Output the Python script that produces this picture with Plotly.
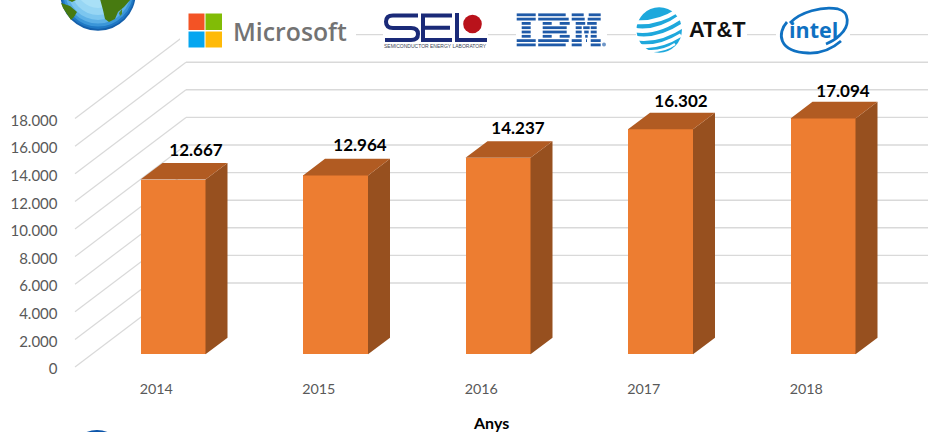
import plotly.graph_objects as go

# Chart data
years = [2014, 2015, 2016, 2017, 2018]
values = [12667, 12964, 14237, 16302, 17094]
value_labels = ["12.667", "12.964", "14.237", "16.302", "17.094"]
y_ticks = [0, 2000, 4000, 6000, 8000, 10000, 12000, 14000, 16000, 18000]
y_tick_labels = ["0", "2.000", "4.000", "6.000", "8.000", "10.000", "12.000", "14.000", "16.000", "18.000"]
x_title = "Anys"

W, H = 928, 432

# Axis scales: one year = 162.5 px, 2000 units = 27.6 px
PX_PER_YEAR = 162.5
PX_PER_UNIT = 0.0138
ZERO_X = 173.0    # pixel column of the first bar's centre
ZERO_Y = 354.3    # pixel row of the bars' base

BAR_WIDTH = 0.4
DEPTH_X = 22.0 / PX_PER_YEAR
DEPTH_Y = 16.6 / PX_PER_UNIT
LABEL_GAP = 10.8 / PX_PER_UNIT

# Oblique projection of the floor: front edge, bar plane, back wall
FRONT_DY = -12.7 / PX_PER_UNIT
BACK_DY = 71.3 / PX_PER_UNIT
FRONT_X = 2014 + (75 - ZERO_X) / PX_PER_YEAR
BACK_X = 2014 + (186 - ZERO_X) / PX_PER_YEAR
FRONT_SHIFT_X = 16.7 / PX_PER_YEAR
TICK_DROP = 2.0 / PX_PER_UNIT

label_nudge_x = [1 / PX_PER_YEAR, 2.5 / PX_PER_YEAR, -2 / PX_PER_YEAR, -1.5 / PX_PER_YEAR, -2 / PX_PER_YEAR]
label_nudge_y = [0, 1.5 / PX_PER_UNIT, 0.7 / PX_PER_UNIT, -0.8 / PX_PER_UNIT, -1.8 / PX_PER_UNIT]

x_range = [2014 - ZERO_X / PX_PER_YEAR, 2014 + (W - ZERO_X) / PX_PER_YEAR]
y_range = [-(H - ZERO_Y) / PX_PER_UNIT, ZERO_Y / PX_PER_UNIT]

GRID = "#d9d9d9"
FRONT = "#ED7D31"
TOP = "#B15B22"
SIDE = "#97501F"
TICK = "#595959"

fig = go.Figure()

# Front faces
fig.add_trace(go.Bar(x=years, y=values, width=BAR_WIDTH, marker=dict(color=FRONT, line=dict(width=0)),
                     hoverinfo="x+y"))

# Side and top faces, projected from the same values
side_x, side_y, top_x, top_y = [], [], [], []
for yr, v in zip(years, values):
    l, r = yr - BAR_WIDTH / 2, yr + BAR_WIDTH / 2
    side_x += [r, r + DEPTH_X, r + DEPTH_X, r, r, None]
    side_y += [0, DEPTH_Y, v + DEPTH_Y, v, 0, None]
    top_x += [l, r, r + DEPTH_X, l + DEPTH_X, l, None]
    top_y += [v, v, v + DEPTH_Y, v + DEPTH_Y, v, None]
fig.add_trace(go.Scatter(x=side_x, y=side_y, mode="lines", fill="toself", fillcolor=SIDE,
                         line=dict(width=0, color=SIDE), hoverinfo="skip"))
fig.add_trace(go.Scatter(x=top_x, y=top_y, mode="lines", fill="toself", fillcolor=TOP,
                         line=dict(width=0, color=TOP), hoverinfo="skip"))

# Value labels above each bar
fig.add_trace(go.Scatter(
    x=[yr + DEPTH_X + n for yr, n in zip(years, label_nudge_x)],
    y=[v + DEPTH_Y + LABEL_GAP + n for v, n in zip(values, label_nudge_y)],
    text=value_labels, mode="text", textposition="middle center",
    textfont=dict(family="Lato", size=17, color="#000000", weight="bold"), hoverinfo="skip"))

# Carrier for the two axes that sit on the front edge of the floor
fig.add_trace(go.Scatter(x=years, y=[0] * len(years), xaxis="x2", yaxis="y2", mode="none", hoverinfo="skip"))

shapes = []

# Floor-to-wall diagonals and back wall gridlines
for t in y_ticks:
    shapes.append(dict(type="line", xref="x", yref="y", layer="below", x0=FRONT_X, y0=t + FRONT_DY,
                       x1=BACK_X, y1=t + BACK_DY, line=dict(color=GRID, width=1.2)))
    shapes.append(dict(type="line", xref="x", yref="y", layer="below", x0=BACK_X, y0=t + BACK_DY,
                       x1=x_range[1], y1=t + BACK_DY, line=dict(color=GRID, width=1.4)))


# Helpers for the header artwork, placed in page pixels
def fx(x):
    return x / W


def fy(y):
    return 1 - y / H


def rect(x0, y0, x1, y1, color):
    shapes.append(dict(type="rect", xref="paper", yref="paper", layer="above", x0=fx(x0), x1=fx(x1),
                       y0=fy(y0), y1=fy(y1), fillcolor=color, line=dict(width=0)))


def disc(cx, cy, r, color):
    shapes.append(dict(type="circle", xref="paper", yref="paper", layer="above", x0=fx(cx - r), x1=fx(cx + r),
                       y0=fy(cy - r), y1=fy(cy + r), fillcolor=color, line=dict(width=0)))


def path(cmds, stroke=None, width=0, fill=None):
    out = []
    for c in cmds:
        if isinstance(c, str):
            out.append(c)
        else:
            out.append(f"{fx(c[0]):.5f},{fy(c[1]):.5f}")
    shapes.append(dict(type="path", xref="paper", yref="paper", layer="above", path=" ".join(out),
                       fillcolor=fill if fill else "rgba(0,0,0,0)",
                       line=dict(color=stroke if stroke else "rgba(0,0,0,0)", width=width)))


annotations = []


def label(x, y, text, size, color, family="Lato", weight=None, xanchor="center"):
    annotations.append(dict(xref="paper", yref="paper", x=fx(x), y=fy(y), text=text, showarrow=False,
                            xanchor=xanchor, yanchor="middle",
                            font=dict(family=family, size=size, color=color, weight=weight)))


# White plates behind the logos
rect(180, 0, 356, 50, "#ffffff")
rect(383, 8, 488, 50, "#ffffff")
rect(516, 8, 607, 50, "#ffffff")
rect(636, 5, 747, 55, "#ffffff")
rect(776, 5, 850, 55, "#ffffff")

# Earth clipped by the top edge
for r, dy, c in [(37.8, 0, "#1560ab"), (36.5, -0.6, "#1f78c4"), (35, -1.4, "#3b96d8"),
                 (33, -2.4, "#5cb0e6"), (30.5, -3.6, "#7cc6ef"), (27, -5, "#97d6f4"), (22, -7, "#a9e0f7")]:
    disc(98, -7 + dy, r, c)
GREEN = "#477a10"
path(["M", (100, -1), "L", (131, -1), "L", (124, 7), "L", (118, 12), "L", (115, 19), "L", (109, 22),
      "L", (105, 19), "L", (103, 10), "Z"], fill=GREEN)
path(["M", (119, 13), "L", (122, 9), "L", (122, 14), "L", (120, 16), "Z"], fill="#4f8a2a")
path(["M", (61, 3), "L", (70, 6), "L", (77, 12), "L", (74, 17), "L", (71, 20), "L", (67, 14), "L", (63, 8), "Z"], fill=GREEN)
path(["M", (66, -1), "L", (76, 0), "L", (72, 2), "Z"], fill=GREEN)

# Earth rising at the bottom edge
disc(97, 458, 28, "#0b55aa")

# Microsoft
rect(188.5, 13.5, 204.5, 30, "#F35325")
rect(205.5, 13.5, 222, 30, "#81BC06")
rect(188.5, 31.5, 204.5, 47.5, "#05A6F0")
rect(205.5, 31.5, 222, 47.5, "#FFBA08")
label(230.5, 31, "Microsoft", 24.8, "#737373", family="Open Sans", weight=600, xanchor="left")

# SEL
NAVY = "#1a2a78"
path(["M", (418, 15.5), "L", (393, 15.5), "Q", (386, 15.5), (386, 21.8), "Q", (386, 28), (393, 28),
      "L", (411, 28), "Q", (418, 28), (418, 34), "Q", (418, 40), (411, 40), "L", (385, 40)], stroke=NAVY, width=4)
path(["M", (452, 15.5), "L", (423, 15.5), "L", (423, 40), "L", (452, 40), "M", (423, 27.7), "L", (450, 27.7)],
     stroke=NAVY, width=4)
path(["M", (457, 13), "L", (457, 40), "L", (487, 40)], stroke=NAVY, width=4)
disc(472.5, 24, 9.3, "#b9121b")
label(435.5, 45.6, "SEMICONDUCTOR ENERGY LABORATORY", 5.0, "#3a3f55", family="Liberation Sans")

# IBM, built from its eight stripes
IBM = "#1f5aa8"
ibm_stripes = [
    [(0, 19), (21.5, 49), (55, 67), (72, 84)],
    [(0, 19), (21.5, 52), (55, 68), (71, 84)],
    [(5, 14), (26, 35), (43, 53), (59, 68.5), (70.5, 80)],
    [(5, 14), (26, 50), (59, 65), (66.5, 73), (74, 80)],
    [(5, 14), (26, 50), (59, 65), (67.5, 72), (74, 80)],
    [(5, 14), (26, 35), (43, 53), (59, 65), (68.5, 71), (74, 80)],
    [(0, 19), (21.5, 52), (55, 65), (69.3, 70.3), (74, 84)],
    [(0, 19), (21.5, 49), (55, 65), (74, 84)],
]
for i, spans in enumerate(ibm_stripes):
    top = 13.4 + i * 4.3
    for a, b in spans:
        rect(516.7 + a, top, 516.7 + b, top + 2.8, IBM)
disc(604, 44.5, 2, "#6f97c8")

# AT&T
ATT = "#1ea8dc"
disc(659.2, 30, 22.7, ATT)
for (a, c, b, w) in [((635, 22), (657, 24), (677, 11), 4),
                     ((634, 30), (657, 34), (682, 16), 4.6),
                     ((635, 38), (658, 42), (684, 25), 4.6),
                     ((640, 46), (660, 48), (681, 35), 3.8),
                     ((648, 51), (663, 52), (675, 44), 2.2)]:
    path(["M", a, "Q", c, b], stroke="#ffffff", width=w)
label(717.5, 30, "AT&T", 21.8, "#111111", family="Liberation Sans", weight="bold")

# Intel
INTEL = "#0f71c2"
path(["M", (790, 23), "C", (800, 12), (822, 6), (838, 9), "C", (850, 12), (850, 26), (840, 35), "C", (836, 39), (831, 42), (826, 44)],
     stroke=INTEL, width=2.8)
path(["M", (787, 22), "C", (777, 33), (778, 52), (808, 53), "C", (820, 53.5), (832, 49), (841, 41)],
     stroke=INTEL, width=2.8)
label(813.5, 30, "intel", 21.5, INTEL, family="Open Sans", weight="bold")

# Axis title
label(491, 422.5, x_title, 16, "#000000", weight="bold")

fig.update_layout(
    width=W, height=H, autosize=False, margin=dict(l=0, r=0, t=0, b=0),
    paper_bgcolor="#ffffff", plot_bgcolor="#ffffff", showlegend=False, bargap=0,
    font=dict(family="Lato"),
    shapes=shapes, annotations=annotations,
    xaxis=dict(range=x_range, visible=False, domain=[0, 1], fixedrange=True),
    yaxis=dict(range=y_range, visible=False, domain=[0, 1], fixedrange=True),
    xaxis2=dict(overlaying="x", anchor="free", position=1 - 379 / H, side="bottom",
                range=[x_range[0] + FRONT_SHIFT_X, x_range[1] + FRONT_SHIFT_X],
                tickmode="array", tickvals=years, ticktext=[str(y) for y in years],
                tickfont=dict(family="Lato", size=14.3, color=TICK), ticks="",
                showline=False, showgrid=False, zeroline=False, fixedrange=True),
    yaxis2=dict(overlaying="y", anchor="free", position=57.5 / W, side="left",
                range=[y_range[0] - FRONT_DY + TICK_DROP, y_range[1] - FRONT_DY + TICK_DROP],
                tickmode="array", tickvals=y_ticks, ticktext=y_tick_labels,
                tickfont=dict(family="Lato", size=15, color=TICK), ticks="",
                showline=False, showgrid=False, zeroline=False, fixedrange=True),
)

fig.write_html("out.html")
